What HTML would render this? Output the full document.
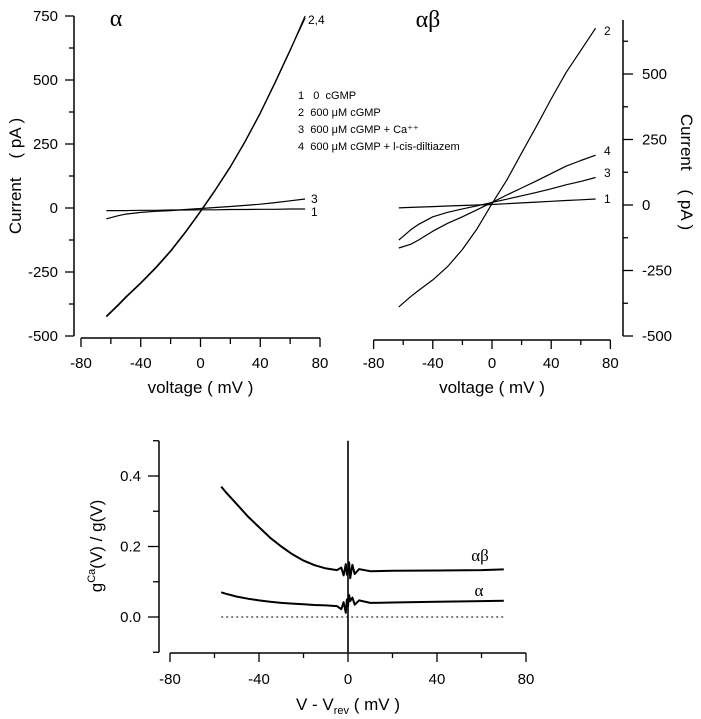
<!DOCTYPE html>
<html><head><meta charset="utf-8">
<style>
html,body{margin:0;padding:0;background:#fff;}
svg{display:block;}
text{font-family:"Liberation Sans",sans-serif;fill:#000;white-space:pre;}
.g{font-family:"Liberation Serif",serif;}
</style></head>
<body>
<svg id="fig" width="701" height="719" viewBox="0 0 701 719" xmlns="http://www.w3.org/2000/svg"></svg>
<script>
// ---- Data ----
const voltsTop = [-63,-55,-50,-40,-30,-20,-10,0,10,20,30,40,50,60,70];
const alphaC1 = [-10,-10,-10,-9,-9,-8,-8,-7,-7,-6,-6,-5,-5,-4,-4];
const alphaC2 = [-425,-380,-350,-295,-235,-170,-95,-15,70,160,260,370,490,615,750];
const alphaC3 = [-42,-30,-24,-17,-13,-10,-6,-2,2,6,10,15,21,28,35];
const alphaC4 = [-422,-377,-347,-292,-232,-167,-92,-12,72,162,262,372,492,617,742];
const abC1 = [-11,-9,-8,-6,-4,-2,0,2,5,8,11,14,17,20,23];
const abC2 = [-389,-350,-328,-286,-235,-170,-90,5,95,198,300,405,505,590,675];
const abC3 = [-134,-95,-75,-45,-28,-15,-3,10,22,35,48,62,77,90,105];
const abC4 = [-164,-150,-135,-100,-70,-45,-18,10,38,65,92,120,148,170,190];
const currentTicks = [-500,-250,0,250,500,750];
const voltTicks = [-80,-40,0,40,80];
const voltsBot = [-57,-55,-50,-45,-40,-35,-30,-25,-20,-15,-10,-5,-3,-2,-1,-0.5,0,0.5,1,2,3,5,10,20,40,60,70];
const ratioAB = [0.37,0.355,0.32,0.285,0.255,0.225,0.2,0.178,0.16,0.147,0.138,0.133,0.14,0.118,0.15,0.12,0.13,0.155,0.11,0.148,0.122,0.136,0.13,0.131,0.132,0.133,0.135];
const ratioA = [0.07,0.066,0.058,0.052,0.047,0.043,0.04,0.038,0.036,0.034,0.033,0.031,0.022,0.042,0.012,0.05,0.03,0.062,0.045,0.055,0.035,0.047,0.04,0.041,0.043,0.045,0.046];
const spikeRange = [-0.1,0.5];
const ratioTicks = [0.0,0.2,0.4];

const NS="http://www.w3.org/2000/svg";
const svg=document.getElementById('fig');
function mk(tag,attrs,parent){const e=document.createElementNS(NS,tag);for(const k in attrs)e.setAttribute(k,attrs[k]);(parent||svg).appendChild(e);return e;}
function line(x1,y1,x2,y2,w,parent){return mk('line',{x1,y1,x2,y2,stroke:'#000','stroke-width':w||1.3},parent);}
function txt(x,y,s,size,anchor,parent,cls){const t=mk('text',{x,y,'font-size':size,'text-anchor':anchor||'middle'},parent);if(cls)t.setAttribute('class',cls);t.textContent=s;return t;}
function path(xs,ys,fx,fy,w,parent,dash){let d='';xs.forEach((v,i)=>{d+=(i?'L':'M')+fx(v).toFixed(1)+','+fy(ys[i]).toFixed(1);});const p=mk('path',{d,fill:'none',stroke:'#000','stroke-width':w||1.2,'stroke-linejoin':'round'},parent);if(dash)p.setAttribute('stroke-dasharray',dash);return p;}

// ---- Panel 1 (alpha) ----
const x1=v=>200.5+v*1.494, y1=i=>208-i*0.256;
const p1=mk('g',{});


line(74,y1(750),74,y1(-500),1.5,p1);
for(let c=-500;c<=750;c+=125){line(currentTicks.includes(c)?65:69,y1(c),74,y1(c),1.3,p1);}
currentTicks.forEach(c=>{const t=txt(58,y1(c)+5,String(c),15,'end',p1);});
line(x1(-80),338,x1(80),338,1.5,p1);
for(let v=-80;v<=80;v+=20){line(x1(v),338,x1(v),voltTicks.includes(v)?347:344,1.3,p1);}
voltTicks.forEach(v=>{const t=txt(x1(v),368,String(v),15,'middle',p1);});
let t=txt(x1(0),393,'voltage ( mV )',17,'middle',p1);

t=mk('text',{x:0,y:0,'font-size':17,'text-anchor':'middle',transform:'translate(21,176) rotate(-90)'},p1);t.textContent='Current    ( pA )';

t=txt(116,26,'α',24,'middle',p1,'g');

[[alphaC1,'curve-1'],[alphaC2,'curve-2'],[alphaC3,'curve-3'],[alphaC4,'curve-4']].forEach(([d,n])=>{const p=path(voltsTop,d,x1,y1,1.2,p1);});
txt(308,24,'2,4',12,'start',p1);txt(311,203,'3',12,'start',p1);txt(311,216,'1',12,'start',p1);
const leg=mk('g',{});


['1   0  cGMP','2  600 μM cGMP','3  600 μM cGMP + Ca⁺⁺','4  600 μM cGMP + l-cis-diltiazem'].forEach((s,i)=>{const e=mk('text',{x:298,y:[99,116,133,150][i],'font-size':11},leg);e.textContent=s;});

// ---- Panel 2 (alpha beta) ----
const x2=v=>492+v*1.48, y2=i=>205-i*0.262;
const p2=mk('g',{});


line(623,20,623,y2(-500),1.5,p2);
for(let c=-500;c<=625;c+=125){line(623,y2(c),c%250===0?633:628,y2(c),1.3,p2);}
[-500,-250,0,250,500].forEach(c=>{const e=txt(642,y2(c)+5,String(c),15,'start',p2);});
line(x2(-80),340,x2(80),340,1.5,p2);
for(let v=-80;v<=80;v+=20){line(x2(v),340,x2(v),voltTicks.includes(v)?349:345,1.3,p2);}
voltTicks.forEach(v=>{const e=txt(x2(v),368,String(v),15,'middle',p2);});
t=txt(x2(0),393,'voltage ( mV )',17,'middle',p2);

t=mk('text',{x:0,y:0,'font-size':17,'text-anchor':'middle',transform:'translate(681,172) rotate(90)'},p2);t.textContent='Current    ( pA )';

t=txt(428,27,'αβ',24,'middle',p2,'g');

[[abC1,'curve-1'],[abC2,'curve-2'],[abC3,'curve-3'],[abC4,'curve-4']].forEach(([d,n])=>{const p=path(voltsTop,d,x2,y2,1.2,p2);});
txt(604,35,'2',12,'start',p2);txt(604,155,'4',12,'start',p2);txt(604,177,'3',12,'start',p2);txt(604,203,'1',12,'start',p2);

// ---- Panel 3 (ratio) ----
const x3=v=>348+v*2.225, y3=g=>617-g*352.5;
const p3=mk('g',{});


line(159,y3(0.5),159,y3(-0.1),1.5,p3);
for(let k=-1;k<=5;k++){const g=k/10;line(ratioTicks.some(r=>Math.abs(r-g)<1e-6)?148:153,y3(g),159,y3(g),1.3,p3);}
ratioTicks.forEach(g=>{const e=txt(141,y3(g)+5,g.toFixed(1),15,'end',p3);});
line(x3(-80),653,x3(80),653,1.5,p3);
for(let v=-80;v<=80;v+=20){line(x3(v),653,x3(v),voltTicks.includes(v)?662:658,1.3,p3);}
voltTicks.forEach(v=>{const e=txt(x3(v),684,String(v),15,'middle',p3);});
t=mk('text',{x:x3(0),y:710,'font-size':17,'text-anchor':'middle'},p3);
t.innerHTML='V - V<tspan font-size="11" dy="4">rev</tspan><tspan dy="-4"> ( mV )</tspan>';

t=mk('text',{x:0,y:0,'font-size':17,'text-anchor':'middle',transform:'translate(102,546) rotate(-90)'},p3);
t.innerHTML='g<tspan font-size="11" dy="-7">Ca</tspan><tspan dy="7">(V) / g(V)</tspan>';

let zl=path([voltsBot[0],voltsBot[voltsBot.length-1]],[0,0],x3,y3,1,p3,'2,3');

let sp=path([0,0],spikeRange,x3,y3,1.6,p3);

let pa=path(voltsBot,ratioAB,x3,y3,2,p3);

let pb=path(voltsBot,ratioA,x3,y3,2,p3);

txt(480,561,'αβ',17,'middle',p3,'g');txt(479,596,'α',17,'middle',p3,'g');
</script>
</body></html>
